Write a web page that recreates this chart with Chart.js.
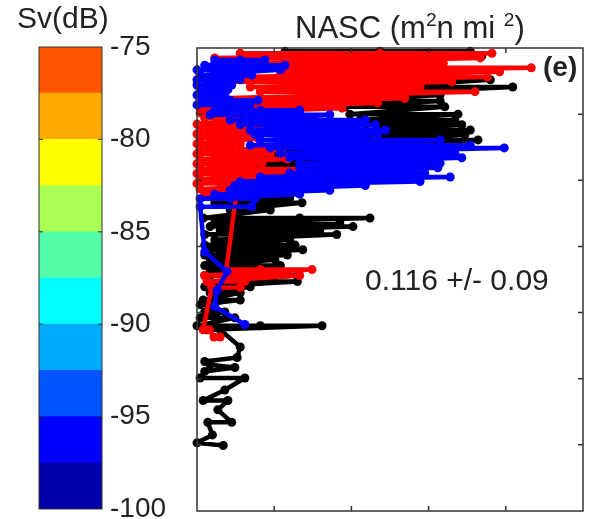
<!DOCTYPE html>
<html>
<head>
<meta charset="utf-8">
<title>NASC profile</title>
<script src="https://cdn.jsdelivr.net/npm/chart.js@4.4.1/dist/chart.umd.min.js"></script>
<style>
  html, body { margin: 0; padding: 0; background: #fff; overflow: hidden; }
  body { width: 603px; height: 519px; position: relative; font-family: Arial, "Liberation Sans", sans-serif; color: #222; }
  canvas { position: absolute; left: 0; top: 0; }
  .txt { position: absolute; line-height: 1; white-space: nowrap; }
  sup { font-size: 0.62em; vertical-align: 0.6em; line-height: 0; }
</style>
</head>
<body>
<canvas id="bar" width="200" height="545"></canvas>
<canvas id="chart" width="603" height="519"></canvas>
<div class="txt" style="left:17px;top:3px;font-size:30px">Sv(dB)</div>
<div class="txt" style="left:295px;top:12px;font-size:31px">NASC (m<sup>2</sup>n mi <sup>2</sup>)</div>
<div class="txt" style="left:365px;top:265px;font-size:30px">0.116 +/- 0.09</div>
<div class="txt" style="left:543px;top:53px;font-size:28px;font-weight:bold">(e)</div>
<script>
'use strict'

// colour scale, Sv in dB
let svEdges = [-100, -97.5, -95, -92.5, -90, -87.5, -85, -82.5, -80, -77.5, -75],
    svColors = ['#0000aa', '#0000ff', '#0055ff', '#00aaff', '#00ffff',
                '#55ffaa', '#aaff55', '#ffff00', '#ffaa00', '#ff5500'],
    svTicks = [-100, -95, -90, -85, -80, -75]

// profile axes (no labels drawn, only tick marks)
let nascTicks = [1, 2, 3, 4],
    depthTicks = [10, 20, 30, 40, 50, 60]

// black series: depth per row, NASC values along that row
let blackDepth = [0.5, 1.2, 2.0, 3.3, 4.8, 5.9, 7.1, 8.0, 8.9, 10.0,
    10.9, 11.6, 12.4, 13.1, 13.9, 14.7, 15.4, 16.2, 16.9, 17.7,
    18.4, 19.3, 20.2, 21.1, 21.9, 22.7, 23.4, 24.5, 25.7, 26.4,
    27.0, 27.6, 28.2, 29.0, 29.8, 30.5, 31.3, 32.0, 32.9, 33.5,
    34.4, 35.3, 36.1, 37.0, 38.1, 38.8, 39.9, 40.8, 42.0, 42.6,
    45.2, 46.8, 47.4, 47.9, 48.3, 48.9, 49.9, 51.7, 53.3, 54.7,
    56.6, 58.5, 59.7, 60.1]
let blackNasc = [
    [1.14, 2.37, 3.54], [1.33, 2.63, 3.69], [1.55, 2.37, 3.15], [1.11, 1.40, 1.68],
    [2.63, 3.28, 3.80], [2.37, 3.28, 4.09], [1.85, 2.63, 3.15], [1.81, 2.50, 3.15],
    [1.92, 2.63, 3.21], [1.98, 2.63, 3.38], [2.11, 2.76, 3.34], [2.07, 2.89, 3.43],
    [2.18, 2.89, 3.54], [2.24, 3.02, 3.47], [2.18, 2.89, 3.64], [1.85, 2.63, 3.43],
    [0.69, 1.72, 2.89], [0.26, 0.95, 1.59], [0.36, 1.08, 1.72], [0.43, 1.08, 1.66],
    [0.56, 1.20, 1.72], [0.69, 1.20, 1.66], [0.75, 1.20, 1.59], [0.69, 1.08, 1.40],
    [0.17, 0.69, 1.33], [0.30, 0.82, 1.20], [0.23, 0.82, 1.36], [0.43, 0.69, 0.95],
    [0.08, 1.33, 2.24], [0.23, 1.08, 1.85], [0.17, 1.20, 2.02], [0.30, 0.95, 1.59],
    [0.10, 1.08, 1.81], [0.23, 0.69, 1.20], [0.10, 0.69, 1.27], [0.17, 0.82, 1.37],
    [0.10, 0.56, 1.17], [0.17, 0.56, 1.01], [0.10, 0.62, 1.08], [0.17, 0.56],
    [0.10, 0.69, 1.30], [0.17, 0.82, 1.30], [0.10, 0.43, 0.69], [0.17, 0.56],
    [0.08, 0.30, 0.56], [0.04, 0.23], [0.10, 0.36], [0.04, 0.23, 0.49],
    [0.00, 0.82, 1.62], [0.13, 0.30],
    [0.56], [0.52], [0.10], [0.17], [0.49], [0.10], [0.04, 0.62], [0.36],
    [0.08, 0.40], [0.27], [0.45, 0.14], [0.20], [0.00], [0.34]]

// red series
let redDepth = [0.8, 1.5, 2.3, 3.0, 3.6, 4.4, 5.1, 5.9, 6.6, 7.6,
    8.3, 9.1, 9.8, 10.6, 11.5, 12.2, 13.0, 13.7, 14.5, 15.3,
    16.0, 16.8, 17.5, 18.3, 19.0, 19.8, 20.5, 21.3, 22.0, 33.5,
    34.4, 35.3, 36.2, 42.6, 43.7]
let redNasc = [
    [0.56, 2.37, 3.82], [0.23, 1.72, 3.67], [0.69, 1.98, 3.19], [0.82, 2.89, 4.33],
    [1.08, 2.63, 3.92], [0.56, 2.37, 3.76], [0.43, 1.98, 3.30], [0.69, 1.72, 2.89],
    [0.82, 2.37, 3.60], [0.30, 1.46, 2.69], [0.17, 1.20, 2.34], [0.04, 0.95, 1.88],
    [0.04, 0.69, 1.33], [0.10, 0.43, 0.84], [0.00, 0.30, 0.69], [0.04, 0.36, 0.84],
    [0.00, 0.23, 0.66], [0.04, 0.43, 0.79], [0.00, 0.17, 0.56], [0.04, 0.56, 1.10],
    [0.00, 0.43, 0.95], [0.04, 0.56, 1.17], [0.00, 0.36, 0.84], [0.04, 0.69, 1.33],
    [0.00, 0.56, 1.14], [0.04, 0.82, 1.72], [0.00, 1.08, 1.98], [0.04, 0.30, 0.84],
    [0.10, 0.51], [0.38, 0.82, 1.49], [0.10, 0.69, 1.33], [0.13, 0.62],
    [0.56, 0.19], [0.08, 0.16], [0.22, 0.30]]

// blue series
let blueDepth = [1.8, 2.6, 3.3, 4.1, 4.8, 5.6, 6.3, 7.1, 7.9, 8.6,
    9.4, 10.1, 10.9, 11.6, 12.4, 13.1, 13.9, 14.7, 15.1, 15.9,
    16.6, 17.4, 18.1, 18.9, 19.5, 20.2, 20.8, 21.5, 22.1, 22.8,
    24.0, 30.8, 33.8, 36.6, 39.1, 41.8]
let blueNasc = [
    [0.23, 0.56, 0.88], [0.10, 0.69, 1.14], [0.00, 0.56, 1.08], [0.04, 0.36, 0.71],
    [0.00, 0.23, 0.56], [0.00, 0.23, 0.45], [0.04, 0.19, 0.40], [0.00, 0.17, 0.36],
    [0.04, 0.43, 0.79], [0.00, 0.30, 0.69], [0.23, 0.82, 1.33], [0.17, 0.95, 1.72],
    [0.43, 1.33, 2.18], [0.56, 1.59, 2.31], [0.69, 1.72, 2.44], [0.75, 1.59, 2.34],
    [0.82, 2.11, 3.15], [0.69, 2.37, 3.54], [0.95, 2.63, 3.98], [1.08, 2.37, 3.34],
    [1.20, 2.50, 3.43], [1.33, 2.37, 3.15], [1.33, 2.37, 3.12], [1.20, 2.24, 2.95],
    [0.82, 2.11, 3.28], [0.56, 1.72, 2.89], [0.49, 1.33, 2.18], [0.43, 1.08, 1.72],
    [0.23, 0.82, 1.33], [0.04, 0.43, 0.75], [0.71, 0.04], [0.10],
    [0.39], [0.26], [0.23], [0.62]]

Chart.defaults.font.family = 'Arial, "Liberation Sans", sans-serif'
Chart.defaults.color = '#222'

function toPoints(depth, nasc) {
    return depth.flatMap((d, i) => nasc[i].map(v => ({x: v, y: d})))
}

function series(color, depth, nasc, order) {
    return {
        data: toPoints(depth, nasc),
        showLine: true,
        borderColor: color,
        backgroundColor: color,
        borderWidth: 4.5,
        borderJoinStyle: 'round',
        borderCapStyle: 'round',
        pointRadius: 4.5,
        pointHoverRadius: 4.5,
        pointBorderWidth: 0,
        order: order,
        clip: false
    }
}

// box with inward tick marks, matlab style
let frame = {
    id: 'frame',
    afterDraw(chart) {
        let ctx = chart.ctx, a = chart.chartArea
        let x = chart.scales.x, y = chart.scales.y
        ctx.save()
        ctx.strokeStyle = '#333'
        ctx.lineWidth = 1.5
        ctx.strokeRect(a.left, a.top, a.width, a.height)
        ctx.beginPath()
        nascTicks.forEach(v => {
            let px = x.getPixelForValue(v)
            ctx.moveTo(px, a.top); ctx.lineTo(px, a.top + 5)
            ctx.moveTo(px, a.bottom); ctx.lineTo(px, a.bottom - 5)
        })
        depthTicks.forEach(v => {
            let py = y.getPixelForValue(v)
            ctx.moveTo(a.left, py); ctx.lineTo(a.left + 5, py)
            ctx.moveTo(a.right, py); ctx.lineTo(a.right - 5, py)
        })
        ctx.stroke()
        ctx.restore()
    }
}

let barFrame = {
    id: 'barFrame',
    afterDraw(chart) {
        let ctx = chart.ctx, a = chart.chartArea, y = chart.scales.y
        ctx.save()
        ctx.strokeStyle = '#333'
        ctx.lineWidth = 1
        ctx.strokeRect(a.left, a.top, a.width, a.height)
        ctx.beginPath()
        svTicks.slice(1, -1).forEach(v => {
            let py = y.getPixelForValue(v)
            ctx.moveTo(a.left, py); ctx.lineTo(a.left + 4, py)
            ctx.moveTo(a.right, py); ctx.lineTo(a.right - 4, py)
        })
        ctx.stroke()
        ctx.restore()
    }
}

new Chart(document.getElementById('bar'), {
    type: 'bar',
    data: {
        labels: ['Sv'],
        datasets: svColors.map((c, i) => ({
            data: [[svEdges[i], svEdges[i + 1]]],
            backgroundColor: c,
            borderWidth: 0,
            barPercentage: 1,
            categoryPercentage: 1,
            grouped: false
        }))
    },
    options: {
        responsive: false,
        animation: false,
        layout: {padding: {left: 39, top: 47, right: 0, bottom: 36}},
        plugins: {legend: {display: false}, tooltip: {enabled: false}},
        scales: {
            x: {display: false},
            y: {
                position: 'right',
                min: -100,
                max: -75,
                afterBuildTicks: s => { s.ticks = svTicks.map(v => ({value: v})) },
                afterFit: s => { s.width = 98 },
                ticks: {font: {size: 28}, color: '#222', padding: 8},
                grid: {display: false, drawTicks: false},
                border: {display: false}
            }
        }
    },
    plugins: [barFrame]
})

new Chart(document.getElementById('chart'), {
    type: 'scatter',
    data: {
        datasets: [
            series('#000000', blackDepth, blackNasc, 3),
            series('#ff0000', redDepth, redNasc, 2),
            series('#0000ff', blueDepth, blueNasc, 1)
        ]
    },
    options: {
        responsive: false,
        animation: false,
        layout: {padding: {left: 197, right: 20, top: 48, bottom: 8}},
        plugins: {legend: {display: false}, tooltip: {enabled: false}},
        scales: {
            x: {type: 'linear', min: 0, max: 5, display: false},
            y: {type: 'linear', min: 0, max: 70, reverse: true, display: false}
        }
    },
    plugins: [frame]
})
</script>
</body>
</html>
